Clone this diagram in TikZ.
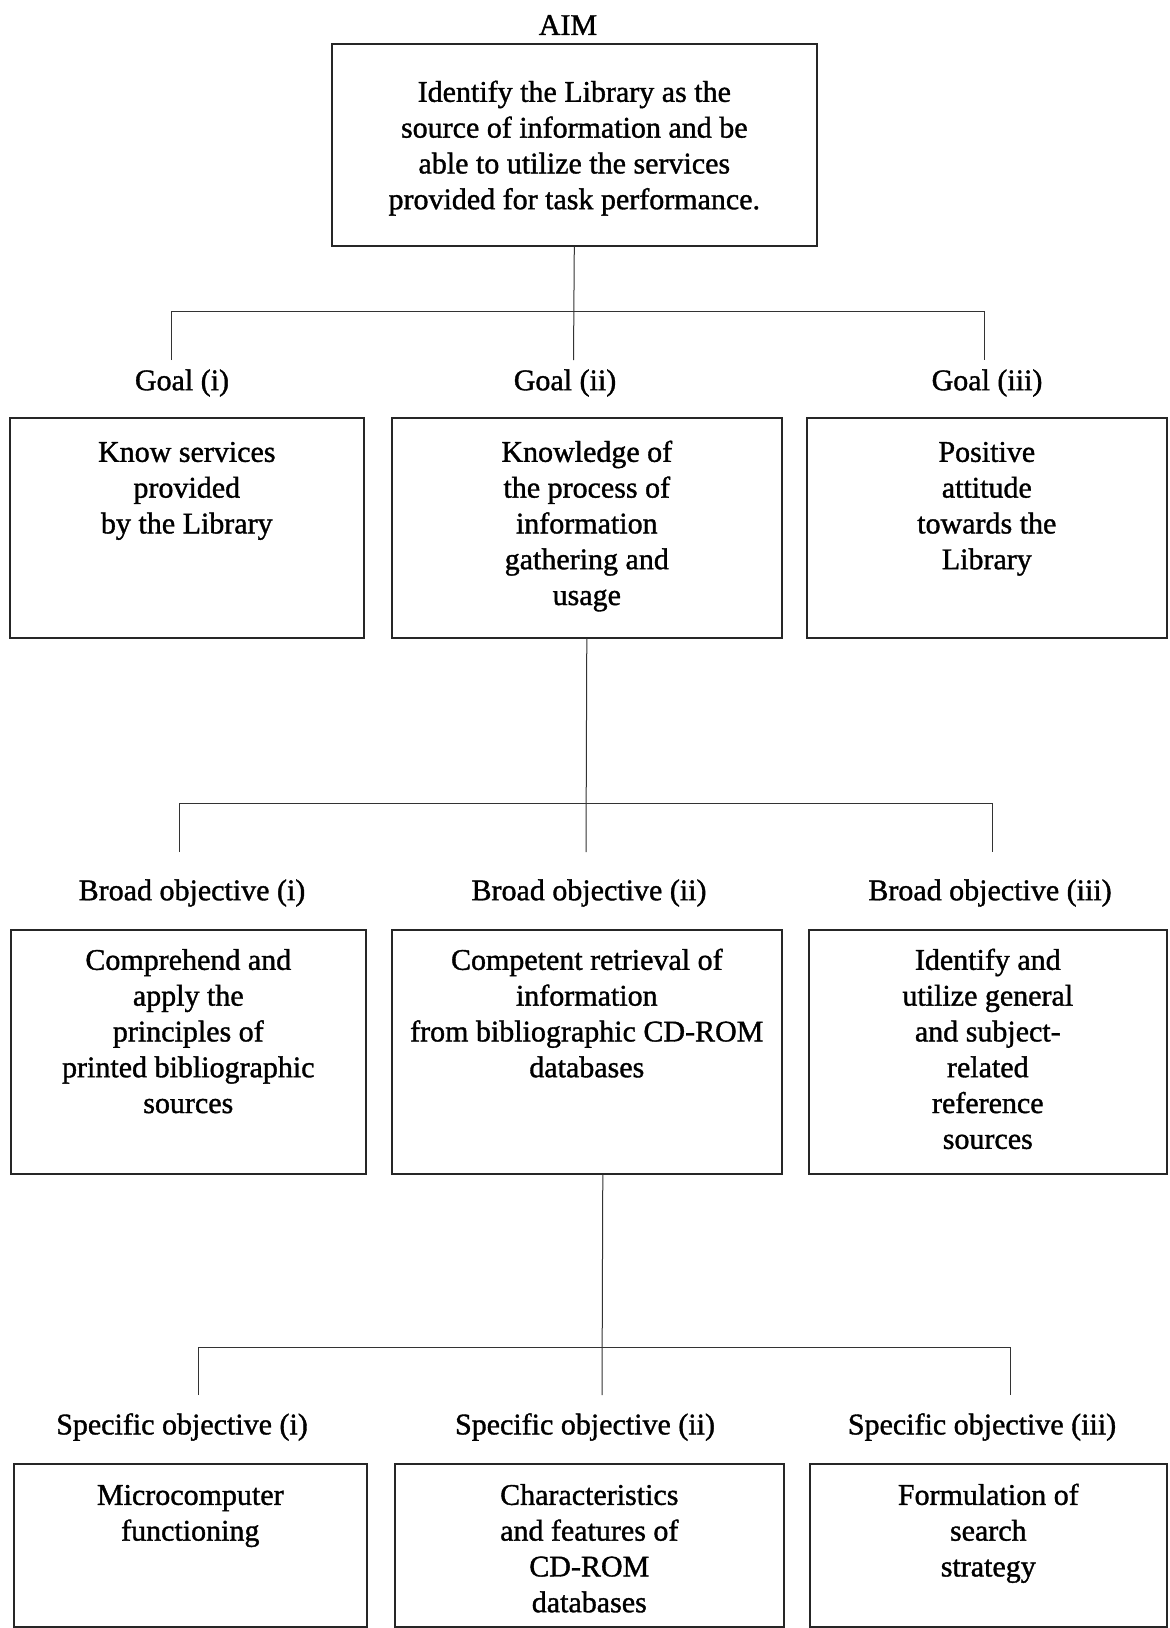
\documentclass[tikz,border=0pt]{standalone}
\usepackage{fontspec}
\setmainfont{Liberation Serif}[BoldFont={Liberation Serif},BoldFeatures={FakeBold=1.2}]
\newcommand{\txtfont}{\fontsize{15}{17.9}\selectfont\bfseries}
\newcommand{\boxtext}[4]{\parbox[t][#2][t]{#1}{\centering\txtfont\rule{0pt}{#3}#4}}
\tikzset{
  bx/.style={draw=black!85, line width=0.8pt, inner sep=0pt, anchor=north west},
  lbl/.style={inner sep=1pt, font=\txtfont},
  conn/.style={draw=black!80, line width=0.5pt}
}
\begin{document}
\begin{tikzpicture}[x=0.5pt,y=-0.5pt]
\useasboundingbox (0,0) rectangle (1169,1628);

% AIM
\node[lbl] (aiml) at (568,25) {AIM};
\node[bx] (aim) at (331,43) {\boxtext{242.5pt}{101pt}{29pt}{Identify the Library as the\\source of information and be\\able to utilize the services\\provided for task performance.}};

% Goals
\node[lbl] (gl1) at (182,383) {Goal (i)};
\node[lbl] (gl2) at (565,383) {Goal (ii)};
\node[lbl] (gl3) at (987,383) {Goal (iii)};
\node[bx] (g1) at (9,417) {\boxtext{177pt}{110pt}{22pt}{Know services\\provided\\by the Library}};
\node[bx] (g2) at (391,417) {\boxtext{195pt}{110pt}{22pt}{Knowledge of\\the process of\\information\\gathering and\\usage}};
\node[bx] (g3) at (806,417) {\boxtext{180pt}{110pt}{22pt}{Positive\\attitude\\towards the\\Library}};

% Broad objectives
\node[lbl] (bl1) at (192,893) {Broad objective (i)};
\node[lbl] (bl2) at (589,893) {Broad objective (ii)};
\node[lbl] (bl3) at (990,893) {Broad objective (iii)};
\node[bx] (b1) at (10,929) {\boxtext{177.5pt}{122pt}{20pt}{Comprehend and\\apply the\\principles of\\printed bibliographic\\sources}};
\node[bx] (b2) at (391,929) {\boxtext{195pt}{122pt}{20pt}{Competent retrieval of\\information\\from bibliographic CD-ROM\\databases}};
\node[bx] (b3) at (808,929) {\boxtext{179pt}{122pt}{20pt}{Identify and\\utilize general\\and subject-\\related\\reference\\sources}};

% Specific objectives
\node[lbl] (sl1) at (182,1427) {Specific objective (i)};
\node[lbl] (sl2) at (585,1427) {Specific objective (ii)};
\node[lbl] (sl3) at (982,1427) {Specific objective (iii)};
\node[bx] (s1) at (13,1463) {\boxtext{176.5pt}{81.5pt}{20.5pt}{Microcomputer\\functioning}};
\node[bx] (s2) at (394,1463) {\boxtext{194.5pt}{81.5pt}{20.5pt}{Characteristics\\and features of\\CD-ROM\\databases}};
\node[bx] (s3) at (809,1463) {\boxtext{178.5pt}{81.5pt}{20.5pt}{Formulation of\\search\\strategy}};

% connector coordinates
\coordinate (d1c) at (573.5,360);
\coordinate (h1l) at (171,311);  \coordinate (h1r) at (984,311);
\coordinate (d1l) at (171,360);  \coordinate (d1r) at (984,360);
\coordinate (d2c) at (586,852);
\coordinate (h2l) at (179,803);  \coordinate (h2r) at (992,803);
\coordinate (d2l) at (179,852);  \coordinate (d2r) at (992,852);
\coordinate (d3c) at (602,1395);
\coordinate (h3l) at (198,1347); \coordinate (h3r) at (1010,1347);
\coordinate (d3l) at (198,1395); \coordinate (d3r) at (1010,1395);

% connectors
\draw[conn] (aim.south) -- (d1c);
\draw[conn] (d1l) -- (h1l) -- (h1r) -- (d1r);
\draw[conn] (g2.south) -- (d2c);
\draw[conn] (d2l) -- (h2l) -- (h2r) -- (d2r);
\draw[conn] ([xshift=8pt]b2.south) -- (d3c);
\draw[conn] (d3l) -- (h3l) -- (h3r) -- (d3r);
\end{tikzpicture}
\end{document}
